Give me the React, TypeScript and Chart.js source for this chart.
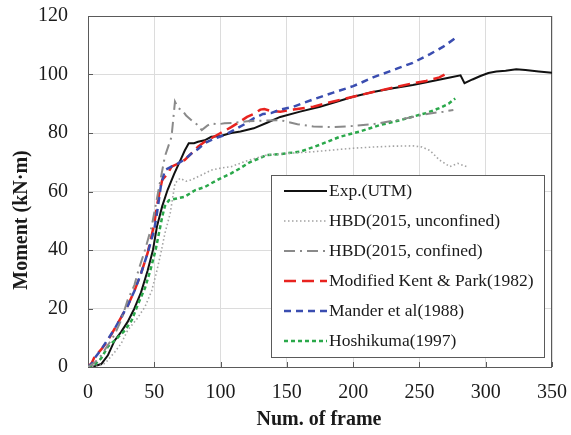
import React, { useEffect, useRef } from "react";
import { Chart, registerables } from "chart.js";

Chart.register(...registerables);

const xTicks = [0, 50, 100, 150, 200, 250, 300, 350];
const yTicks = [0, 20, 40, 60, 80, 100, 120];

const expFrames = [0, 5, 10, 15, 20, 25, 30, 35, 40, 45, 49, 52, 56, 60, 65, 70, 73, 76, 80, 83, 88, 93, 100, 108, 115, 125, 135, 145, 160, 175, 190, 200, 215, 230, 245, 260, 273, 281, 284, 290, 296, 302, 308, 315, 323, 330, 340, 350];
const expMoment = [0, 0.3, 1, 4, 9, 12, 15.5, 20, 25.5, 33, 40, 48, 55, 60.5, 66, 71, 74, 76.5, 76.5, 77, 77.5, 78.7, 79, 80, 80.5, 81.6, 83.5, 85.5, 87.3, 89, 91, 92.4, 94, 95.3, 96.4, 97.8, 99, 99.7, 97, 98.3, 99.5, 100.5, 101, 101.3, 101.8, 101.5, 101, 100.6];

const unconfFrames = [0, 8, 13, 20, 25, 30, 37, 43, 48, 52, 55, 58, 62, 65.6, 69.4, 74, 78, 85, 93, 100, 108, 120, 135, 150, 170, 185, 200, 215, 230, 245, 252, 258, 265, 273, 279, 285.6];
const unconfMoment = [0, 0.3, 1.3, 5, 8, 12.6, 16.5, 20.6, 26, 33, 39, 45.7, 52.5, 62.8, 64.5, 63.5, 64, 65.5, 67.3, 68, 68.5, 70.5, 72.5, 73, 73.6, 74.2, 74.8, 75.2, 75.5, 75.6, 75.2, 74, 70.8, 68.5, 69.6, 68.5];

const confFrames = [0, 5, 10, 15, 20, 25, 30, 35, 38, 43, 48, 53, 58, 63, 65.6, 68, 70.7, 74, 78, 82, 85.8, 90, 93, 98, 103, 110, 120, 130, 145, 158, 170, 185, 200, 215, 233, 245, 258, 268, 275.6];
const confMoment = [0, 1.5, 4, 7.5, 11, 16, 23, 28, 33, 40, 48, 60, 72, 78.7, 90.7, 88.5, 87.9, 86, 84.4, 83, 81, 82.5, 83.3, 83, 83.3, 83.5, 84, 84.2, 84.4, 83, 82.2, 82, 82.4, 83, 84.4, 85.5, 86.7, 87.3, 87.9];

const kentFrames = [0, 3, 5, 10, 15, 20, 25, 30, 35, 40, 45, 50, 52, 54, 56, 60, 63, 68, 73, 78, 83, 88, 93, 100, 108, 115, 120, 125, 130, 133, 138, 145, 155, 170, 185, 200, 215, 230, 245, 255, 265, 270, 273];
const kentMoment = [0, 1.5, 3.5, 6, 9, 13, 17, 21, 26, 32, 39, 49, 55, 60, 64, 66, 68.5, 69.5, 70.8, 73, 75.3, 77, 78.2, 80, 82, 84, 85.5, 86.5, 88, 88.2, 87.5, 87.3, 88, 89, 90.8, 92.4, 94, 95.5, 97, 97.8, 99, 100.2, 100.7];

const manderFrames = [0, 3, 5, 10, 15, 20, 25, 30, 35, 40, 45, 50, 52, 55, 58, 63, 68, 73, 78, 83, 88, 95, 103, 110, 118, 125, 132, 138, 145, 155, 170, 185, 200, 215, 233, 245, 258, 268, 277];
const manderMoment = [0, 1.2, 3, 6, 9.5, 13, 17, 21, 26, 32, 39, 47, 52.5, 62, 67.3, 68.5, 69.6, 71, 73, 74.5, 76.5, 78, 79.3, 81, 83, 85, 86.5, 86.8, 88, 89, 91.5, 93.8, 96, 99, 102, 104, 107, 109.5, 112.4];

const hoshiFrames = [0, 5, 10, 15, 20, 28, 33, 38, 43, 47, 51, 54, 56, 58, 61, 66, 73, 81, 88, 93, 100, 108, 115, 122, 130, 135, 145, 160, 175, 190, 205, 220, 235, 245, 255, 265, 272, 277];
const hoshiMoment = [0, 0.8, 3, 7, 9, 12.6, 16, 21.8, 27, 33, 40, 46.8, 51.4, 55, 57, 57.5, 58.2, 60.5, 61.5, 62.8, 64.5, 66.2, 68, 70, 71.5, 72.5, 72.8, 73.6, 76, 78.7, 80.5, 82.7, 84.3, 85.6, 86.8, 88.5, 90, 91.8];

const seriesLabels = [
  "Exp.(UTM)",
  "HBD(2015, unconfined)",
  "HBD(2015, confined)",
  "Modified Kent & Park(1982)",
  "Mander et al(1988)",
  "Hoshikuma(1997)",
];
const seriesColors = ["#111111", "#a3a3a3", "#8a8a8a", "#e8231f", "#3a4db0", "#2aa84a"];
const seriesDashes: number[][] = [[], [1.5, 2.5], [11, 5, 2, 5], [12, 6], [7, 5], [4, 3]];
const seriesWidths = [2, 1.6, 2, 2.5, 2.5, 2.5];

const SERIF = "'Liberation Serif', 'Times New Roman', serif";

function toPoints(xs: number[], ys: number[]) {
  return xs.map((x, i) => ({ x, y: ys[i] }));
}

const decorPlugin = {
  id: "decor",
  beforeDatasetsDraw(chart: any) {
    const { ctx, chartArea: a, scales } = chart;
    ctx.save();
    ctx.strokeStyle = "#5a5a5a";
    ctx.lineWidth = 1;
    ctx.strokeRect(a.left + 0.5, a.top + 0.5, a.right - a.left - 1, a.bottom - a.top);
    ctx.beginPath();
    xTicks.forEach((v) => {
      const px = Math.round(scales.x.getPixelForValue(v)) + 0.5;
      ctx.moveTo(px, a.bottom);
      ctx.lineTo(px, a.bottom - 5);
    });
    yTicks.forEach((v) => {
      const py = Math.round(scales.y.getPixelForValue(v)) + 0.5;
      ctx.moveTo(a.left, py);
      ctx.lineTo(a.left + 5, py);
    });
    ctx.stroke();
    ctx.restore();
  },
  afterDraw(chart: any) {
    const { ctx } = chart;
    ctx.save();
    ctx.fillStyle = "#1a1a1a";
    ctx.font = `bold 20px ${SERIF}`;
    ctx.textAlign = "center";
    ctx.textBaseline = "middle";
    ctx.fillText("Num. of frame", 319, 420);
    ctx.translate(22, 220);
    ctx.rotate(-Math.PI / 2);
    ctx.fillText("Moment (kN·m)", 0, 0);
    ctx.restore();

    ctx.save();
    const bx = 271, by = 175, bw = 273, bh = 182;
    ctx.fillStyle = "#ffffff";
    ctx.fillRect(bx, by, bw, bh);
    ctx.strokeStyle = "#5a5a5a";
    ctx.lineWidth = 1;
    ctx.strokeRect(bx + 0.5, by + 0.5, bw, bh);
    ctx.font = `17.5px ${SERIF}`;
    ctx.textAlign = "left";
    ctx.textBaseline = "middle";
    seriesLabels.forEach((lab, i) => {
      const cy = 191 + i * 30;
      ctx.beginPath();
      ctx.strokeStyle = seriesColors[i];
      ctx.lineWidth = seriesWidths[i];
      ctx.setLineDash(seriesDashes[i]);
      ctx.moveTo(284, cy);
      ctx.lineTo(327, cy);
      ctx.stroke();
      ctx.setLineDash([]);
      ctx.fillStyle = "#1a1a1a";
      ctx.fillText(lab, 329, cy);
    });
    ctx.restore();
  },
};

export default function App() {
  const ref = useRef<HTMLCanvasElement | null>(null);
  useEffect(() => {
    if (!ref.current) return;
    const pairs: [number[], number[]][] = [
      [expFrames, expMoment],
      [unconfFrames, unconfMoment],
      [confFrames, confMoment],
      [kentFrames, kentMoment],
      [manderFrames, manderMoment],
      [hoshiFrames, hoshiMoment],
    ];
    const datasets = pairs.map(([xs, ys], i) => ({
      label: seriesLabels[i],
      data: toPoints(xs, ys),
      showLine: true,
      borderColor: seriesColors[i],
      backgroundColor: seriesColors[i],
      borderWidth: seriesWidths[i],
      borderDash: seriesDashes[i],
      pointRadius: 0,
      tension: 0,
      fill: false,
    }));
    const ordered = [datasets[1], datasets[2], datasets[5], datasets[4], datasets[3], datasets[0]];
    const chart = new Chart(ref.current, {
      type: "scatter",
      data: { datasets: ordered as any },
      options: {
        responsive: false,
        animation: false,
        layout: { padding: { top: 16, right: 19, left: 0, bottom: 0 } },
        plugins: { legend: { display: false }, tooltip: { enabled: false } },
        scales: {
          x: {
            type: "linear",
            min: 0,
            max: 350,
            afterFit: (s: any) => { s.height = 68; s.paddingLeft = 0; s.paddingRight = 0; },
            afterBuildTicks: (s: any) => { s.ticks = xTicks.map((v) => ({ value: v })); },
            grid: { color: "#dcdcdc", lineWidth: 1, drawTicks: false },
            border: { display: false },
            ticks: { padding: 14, color: "#1a1a1a", font: { family: SERIF, size: 20 }, maxRotation: 0 },
          },
          y: {
            type: "linear",
            min: 0,
            max: 120,
            afterFit: (s: any) => { s.width = 88; s.paddingTop = 0; s.paddingBottom = 0; },
            afterBuildTicks: (s: any) => { s.ticks = yTicks.map((v) => ({ value: v })); },
            grid: { color: "#dcdcdc", lineWidth: 1, drawTicks: false },
            border: { display: false },
            ticks: { padding: 20, color: "#1a1a1a", font: { family: SERIF, size: 20 } },
          },
        },
      },
      plugins: [decorPlugin],
    });
    return () => chart.destroy();
  }, []);
  return (
    <div style={{ position: "absolute", left: 0, top: 0, width: 571, height: 435, background: "#fff" }}>
      <canvas ref={ref} width={571} height={435} />
    </div>
  );
}
